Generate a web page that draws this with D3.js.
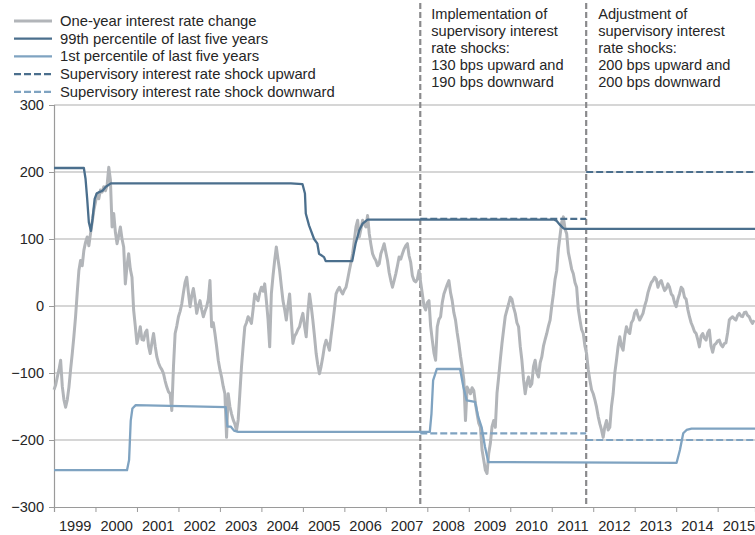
<!DOCTYPE html>
<html>
<head>
<meta charset="utf-8">
<script src="https://cdn.jsdelivr.net/npm/d3@7"></script>
<style>
  html, body { margin: 0; padding: 0; background: #fff; }
  svg { display: block; font-family: "Liberation Sans", Arial, sans-serif; }
</style>
</head>
<body>
<svg id="chart" width="755" height="535"></svg>
<script>
// One-year interest rate change (bps), one reading every 0.04 years from 1999.00
const rateStart = 1999.0;
const rateStep = 0.04;
const rateValues = [
  -125,-118,-106,-95,-81,-120,-140,-151,-140,-121,-95,-71,-45,-16,20,53,68,60,83,95,
  103,90,108,125,143,155,168,160,173,170,178,172,180,207,188,118,138,110,93,105,
  118,100,88,33,60,78,55,43,-6,-30,-56,-45,-31,-50,-51,-40,-36,-60,-71,-55,
  -41,-60,-76,-85,-91,-95,-101,-112,-121,-128,-131,-156,-91,-41,-30,-16,-8,3,20,35,
  43,20,-1,15,26,10,-11,0,8,-5,-16,-8,-1,10,38,-31,-25,-41,-60,-81,
  -95,-106,-120,-131,-196,-131,-150,-161,-170,-176,-186,-170,-131,-91,-60,-31,-25,-16,-20,-26,
  -5,18,12,8,20,28,22,33,8,-20,-61,18,45,68,88,70,53,30,8,-5,
  -21,0,18,-20,-56,-45,-41,-35,-31,-20,-11,-30,-46,-10,18,0,-21,-45,-71,-88,
  -101,-90,-76,-60,-51,-58,-66,-45,-26,-5,18,24,28,22,18,24,28,40,53,65,
  78,98,118,128,103,115,128,122,118,135,108,92,78,72,68,60,63,78,85,93,
  80,68,50,38,28,38,48,60,73,70,78,85,90,93,75,65,45,38,36,40,
  53,35,18,0,-6,5,8,-30,-51,-70,-81,-31,-20,-16,5,18,25,32,38,20,
  8,-10,-21,-40,-56,-75,-91,-110,-171,-121,-126,-131,-122,-126,-145,-161,-175,-181,-215,-230,
  -245,-250,-220,-205,-180,-171,-181,-130,-106,-80,-56,-35,-15,-6,3,13,10,-2,-11,-25,
  -31,-60,-81,-110,-131,-115,-106,-120,-116,-90,-81,-100,-106,-85,-76,-60,-50,-41,-30,-21,
  0,18,40,53,85,105,125,133,115,108,80,68,55,48,35,28,-5,-21,-35,-41,
  -60,-71,-95,-111,-125,-131,-140,-151,-165,-176,-185,-196,-180,-171,-185,-181,-150,-131,-100,-81,
  -60,-46,-60,-66,-45,-31,-38,-41,-25,-21,-10,-6,-15,-21,-16,-11,0,8,20,28,
  35,38,43,40,28,35,38,30,23,26,33,28,18,15,5,-1,10,18,28,25,
  13,10,-5,-16,-25,-31,-38,-41,-50,-61,-45,-41,-48,-51,-40,-36,-60,-69,-58,-56,
  -52,-51,-58,-61,-56,-55,-40,-21,-18,-16,-19,-21,-14,-11,-15,-16,-10,-9,-14,-16,
  -22,-26,-21
];

// 99th percentile of the last five years
const p99Years  = [1999.00,1999.72,1999.76,1999.80,1999.84,1999.89,1999.93,1999.98,2000.03,2000.09,2000.17,2000.25,2000.37,2004.71,2004.99,2005.05,2005.07,2005.15,2005.27,2005.35,2005.39,2005.51,2005.55,2006.19,2006.27,2006.36,2006.44,2006.56,2011.05,2011.12,2011.20,2011.28,2011.32,2015.90];
const p99Values = [206,206,190,160,125,112,130,160,168,170,172,178,183,183,182,168,138,120,100,93,78,73,67,67,93,113,123,129,129,127,121,116,115,115];

// 1st percentile of the last five years
const p1Years  = [1999.00,2000.76,2000.81,2000.85,2000.89,2000.97,2003.14,2003.18,2003.26,2003.34,2003.44,2008.06,2008.10,2008.14,2008.23,2008.79,2008.87,2008.95,2009.15,2009.23,2009.31,2009.39,2009.47,2014.01,2014.09,2014.17,2014.25,2014.37,2015.90];
const p1Values = [-245,-245,-230,-171,-153,-148,-151,-180,-180,-186,-188,-188,-161,-111,-94,-94,-121,-141,-143,-166,-181,-210,-233,-234,-215,-190,-185,-183,-183];

// Supervisory shocks: [from, to, bps] for each regime
const regimeDates = [2007.83, 2011.83];
const shockUpSegments = [[2007.83, 2011.83, 130], [2011.83, 2015.90, 200]];
const shockDownSegments = [[2007.83, 2011.83, -190], [2011.83, 2015.90, -200]];

const yearTicks = d3.range(1999, 2016);
const valueTicks = [-300, -200, -100, 0, 100, 200, 300];

const legendLabels = [
  "One-year interest rate change",
  "99th percentile of last five years",
  "1st percentile of last five years",
  "Supervisory interest rate shock upward",
  "Supervisory interest rate shock downward"
];
const noteLeft = ["Implementation of", "supervisory interest", "rate shocks:", "130 bps upward and", "190 bps downward"];
const noteRight = ["Adjustment of", "supervisory interest", "rate shocks:", "200 bps upward and", "200 bps downward"];

const colors = {
  rate: "#b2b5b9",
  p99: "#4b6f8d",
  p1: "#7fa3c1",
  grid: "#c9c9c9",
  axis: "#9a9a9a",
  regime: "#8a8a8c",
  text: "#262626"
};

const svg = d3.select("#chart");
const plotLeft = 54, plotRight = 755, plotTop = 105, plotBottom = 507;

const x = d3.scaleLinear().domain([1999, 2015.9]).range([plotLeft, plotRight]);
const y = d3.scaleLinear().domain([-300, 300]).range([plotBottom, plotTop]);

// Horizontal gridlines
svg.append("g").selectAll("line")
  .data(valueTicks.filter(v => v > -300))
  .join("line")
  .attr("x1", plotLeft).attr("x2", plotRight)
  .attr("y1", d => y(d)).attr("y2", d => y(d))
  .attr("stroke", colors.grid).attr("stroke-width", 1.3);

// Y axis
const yAxis = svg.append("g")
  .attr("transform", `translate(${plotLeft},0)`)
  .call(d3.axisLeft(y).tickValues(valueTicks).tickSize(5).tickPadding(5).tickFormat(d3.format("d")));
yAxis.select(".domain").attr("stroke", colors.axis).attr("stroke-width", 1.2);
yAxis.selectAll(".tick line").attr("stroke", colors.axis);
yAxis.selectAll("text").attr("font-size", "14.6px").attr("fill", colors.text)
  .attr("font-family", "Liberation Sans, Arial, sans-serif");

// X axis: tick marks on year boundaries, labels centred in each year
const xAxis = svg.append("g")
  .attr("transform", `translate(0,${plotBottom})`)
  .call(d3.axisBottom(x).tickValues(yearTicks).tickSize(5).tickFormat(""));
xAxis.select(".domain").attr("stroke", colors.axis).attr("stroke-width", 1.2);
xAxis.selectAll(".tick line").attr("stroke", colors.axis);

const xLabels = svg.append("g")
  .attr("transform", `translate(0,${plotBottom})`)
  .call(d3.axisBottom(x).tickValues(yearTicks.map(d => d + 0.5)).tickSize(0).tickPadding(14)
    .tickFormat(d => String(Math.floor(d))));
xLabels.select(".domain").remove();
xLabels.selectAll("text").attr("font-size", "14.6px").attr("fill", colors.text)
  .attr("font-family", "Liberation Sans, Arial, sans-serif");

// Regime change markers
svg.append("g").selectAll("line")
  .data(regimeDates)
  .join("line")
  .attr("x1", d => x(d)).attr("x2", d => x(d))
  .attr("y1", 3).attr("y2", plotBottom)
  .attr("stroke", colors.regime).attr("stroke-width", 2.2)
  .attr("stroke-dasharray", "6,3");

const line = d3.line()
  .x(d => x(d[0]))
  .y(d => y(d[1]));

// One-year interest rate change
svg.append("path")
  .datum(rateValues.map((v, i) => [rateStart + i * rateStep, v]))
  .attr("fill", "none")
  .attr("stroke", colors.rate)
  .attr("stroke-width", 3)
  .attr("stroke-linejoin", "round")
  .attr("d", line);

// Percentile bands
svg.append("path")
  .datum(d3.zip(p1Years, p1Values))
  .attr("fill", "none").attr("stroke", colors.p1).attr("stroke-width", 2.3)
  .attr("stroke-linejoin", "round")
  .attr("d", line);

svg.append("path")
  .datum(d3.zip(p99Years, p99Values))
  .attr("fill", "none").attr("stroke", colors.p99).attr("stroke-width", 2.3)
  .attr("stroke-linejoin", "round")
  .attr("d", line);

// Supervisory shocks
svg.append("g").selectAll("line")
  .data(shockDownSegments)
  .join("line")
  .attr("x1", d => x(d[0])).attr("x2", d => x(d[1]))
  .attr("y1", d => y(d[2])).attr("y2", d => y(d[2]))
  .attr("stroke", colors.p1).attr("stroke-width", 2.2)
  .attr("stroke-dasharray", "7,3");

svg.append("g").selectAll("line")
  .data(shockUpSegments)
  .join("line")
  .attr("x1", d => x(d[0])).attr("x2", d => x(d[1]))
  .attr("y1", d => y(d[2])).attr("y2", d => y(d[2]))
  .attr("stroke", colors.p99).attr("stroke-width", 2.2)
  .attr("stroke-dasharray", "7,3");

// Legend
const legendStyles = [
  { stroke: colors.rate, dash: null, width: 3 },
  { stroke: colors.p99, dash: null, width: 2.3 },
  { stroke: colors.p1, dash: null, width: 2.3 },
  { stroke: colors.p99, dash: "7,3", width: 2.2 },
  { stroke: colors.p1, dash: "7,3", width: 2.2 }
];
const legend = svg.append("g").attr("transform", "translate(14,26)");
const rows = legend.selectAll("g")
  .data(legendLabels)
  .join("g")
  .attr("transform", (d, i) => `translate(0,${i * 17.7})`);
rows.append("line")
  .attr("x1", 0).attr("x2", 38).attr("y1", -5).attr("y2", -5)
  .attr("stroke", (d, i) => legendStyles[i].stroke)
  .attr("stroke-width", (d, i) => legendStyles[i].width)
  .attr("stroke-dasharray", (d, i) => legendStyles[i].dash);
rows.append("text")
  .attr("x", 46).attr("y", 0)
  .attr("font-size", "14.8px").attr("fill", colors.text)
  .text(d => d);

// Regime notes
function note(lines, xPos) {
  svg.append("g").selectAll("text")
    .data(lines)
    .join("text")
    .attr("x", xPos).attr("y", (d, i) => 19.3 + i * 17)
    .attr("font-size", "14.6px").attr("fill", colors.text)
    .text(d => d);
}
note(noteLeft, x(regimeDates[0]) + 11);
note(noteRight, x(regimeDates[1]) + 12);
</script>
</body>
</html>
